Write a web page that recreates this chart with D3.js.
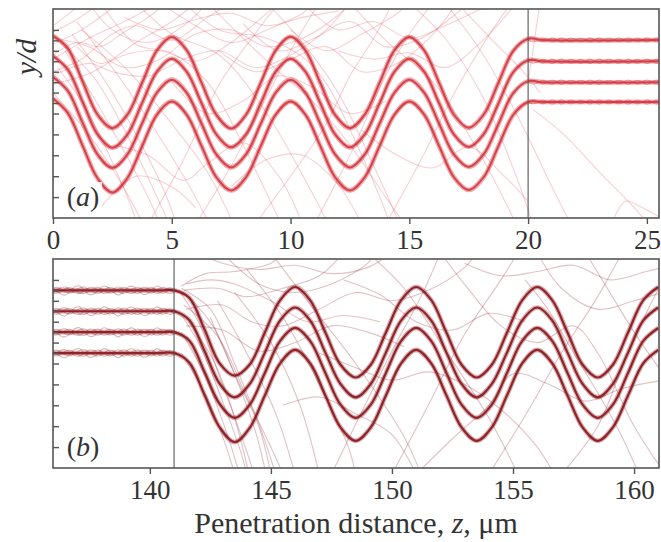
<!DOCTYPE html>
<html><head><meta charset="utf-8">
<script src="https://cdn.jsdelivr.net/npm/d3@7"></script>
<style>body{margin:0;background:#fff}svg{display:block}</style>
</head><body><svg id="c" width="661" height="542"></svg>
<script>
// ---------- DATA ----------
const topTicksX = [0, 5, 10, 15, 20, 25];
const botTicksX = [140, 145, 150, 155, 160];
const yTicks = [1, 2, 3, 4, 5, 5.5, 6, 6.5, 7, 7.5, 8, 8.5, 9];
const topEdgeZ = 20;      // channel straightens (panel a)
const botEdgeZ = 141;     // channel starts bending (panel b)

const zTopWave = [0,0.625,1.25,1.875,2.5,3.125,3.75,4.375,5,5.625,6.25,6.875,7.5,8.125,8.75,9.375,10,10.625,11.25,11.875,12.5,13.125,13.75,14.375,15,15.625,16.25,16.875,17.5,18.125,18.75,19.375,20];
const yTopWave = [
 [8.72,8.12,6.52,4.95,4.30,4.93,6.47,8.02,8.66,8.03,6.48,4.94,4.28,4.94,6.49,8.02,8.67,8.02,6.47,4.93,4.30,4.95,6.48,8.03,8.66,8.02,6.48,4.94,4.32,4.94,6.47,8.00,8.58],
 [7.75,7.10,5.55,4.00,3.36,3.98,5.50,7.00,7.62,7.00,5.50,4.00,3.38,4.00,5.50,7.00,7.62,7.00,5.50,4.00,3.38,4.00,5.50,7.00,7.62,7.00,5.50,4.00,3.40,4.00,5.48,6.98,7.55],
 [6.75,6.08,4.55,3.04,2.40,3.03,4.52,6.00,6.62,6.00,4.52,3.04,2.42,3.04,4.52,6.00,6.62,6.00,4.52,3.04,2.42,3.04,4.52,6.00,6.62,6.00,4.52,3.04,2.44,3.04,4.50,5.98,6.55],
 [5.72,5.02,3.45,1.90,1.22,1.90,3.43,4.95,5.58,4.95,3.45,1.95,1.32,1.95,3.45,4.95,5.58,4.95,3.45,1.95,1.32,1.95,3.45,4.95,5.58,4.95,3.45,1.95,1.34,1.95,3.44,4.94,5.55]
];
const topFlatLevels = [8.52, 7.50, 6.50, 5.55];
const braidTopZ = [20.0,20.2,20.4,20.6,20.8,21.0,21.2,21.4,21.6,21.8,22.0,22.2,22.4,22.6,22.8,23.0,23.2,23.4,23.6,23.8,24.0,24.2,24.4,24.6,24.8,25.0,25.2,25.4,25.6];
const braidTop = [0,0.09,0.03,-0.09,-0.02,0.10,0.01,-0.10,0,0.09,0.02,-0.09,-0.01,0.10,0,-0.10,0.01,0.09,0.01,-0.09,-0.02,0.10,0.01,-0.09,0,0.10,0.01,-0.10,0];

const zBotWave = [141,141.625,142.25,142.875,143.5,144.125,144.75,145.375,146,146.625,147.25,147.875,148.5,149.125,149.75,150.375,151,151.625,152.25,152.875,153.5,154.125,154.75,155.375,156,156.625,157.25,157.875,158.5,159.125,159.75,160.375,161];
const yBotWave = [
 [8.50,8.15,6.65,5.02,4.42,4.95,6.48,8.02,8.66,8.02,6.48,4.94,4.33,4.94,6.48,8.02,8.66,8.03,6.48,4.94,4.33,4.94,6.47,8.02,8.66,8.02,6.48,4.94,4.33,4.94,6.48,8.02,8.66],
 [7.50,7.08,5.62,4.05,3.38,4.02,5.52,7.05,7.68,7.05,5.52,4.02,3.38,4.02,5.52,7.05,7.68,7.05,5.52,4.02,3.38,4.02,5.52,7.05,7.68,7.05,5.52,4.02,3.38,4.02,5.52,7.05,7.68],
 [6.50,6.10,4.62,3.08,2.40,3.03,4.55,6.07,6.70,6.07,4.55,3.03,2.40,3.03,4.55,6.07,6.70,6.07,4.55,3.03,2.40,3.03,4.55,6.07,6.70,6.07,4.55,3.03,2.40,3.03,4.55,6.07,6.70],
 [5.50,5.05,3.52,1.96,1.24,1.92,3.47,5.00,5.65,5.00,3.47,1.94,1.30,1.94,3.47,5.00,5.65,5.00,3.47,1.94,1.30,1.94,3.47,5.00,5.65,5.00,3.47,1.94,1.30,1.94,3.47,5.00,5.65]
];
const botFlatLevels = [8.50, 7.50, 6.50, 5.50];
const braidBotZ = [135.9,136.1,136.3,136.5,136.7,136.9,137.1,137.3,137.5,137.7,137.9,138.1,138.3,138.5,138.7,138.9,139.1,139.3,139.5,139.7,139.9,140.1,140.3,140.5,140.7,140.9,141.1];
const braidBotA = [0.05,0.14,0.08,-0.08,-0.13,-0.02,0.12,0.15,0.03,-0.10,-0.14,0.0,0.13,0.10,-0.04,-0.15,-0.08,0.08,0.15,0.05,-0.09,-0.13,0.02,0.14,0.08,-0.05,0];
const braidBotB = [-0.10,-0.02,0.12,0.16,0.04,-0.12,-0.15,0.0,0.14,0.12,-0.03,-0.15,-0.09,0.07,0.16,0.06,-0.11,-0.14,0.01,0.13,0.12,-0.04,-0.15,-0.06,0.08,0.10,0];

const faintTop = [
 [[0,8.9],[1,9.5],[2,10.3]],
 [[0,8.3],[1.2,9.0],[2.8,10.3]],
 [[0,7.6],[1.5,8.6],[3,9.4],[4.5,10.3]],
 [[0,7.0],[1.2,7.6],[2.5,8.8],[3.5,9.2],[5,8.5],[6.5,9.6],[7.5,10.3]],
 [[0,6.4],[1.5,6.9],[3,7.8],[4.5,8.0],[6,7.5],[7.5,8.4],[9,9.8],[9.5,10.3]],
 [[0,8.6],[1.5,8.2],[3,7.2],[4.5,7.6],[6,8.8],[7.5,9.0],[9,8.2],[10.5,8.6],[12,9.7],[12.5,10.3]],
 [[0.2,7.2],[1.5,5.0],[3.4,0.2],[3.5,-0.3]],
 [[0.5,8.0],[2,5.2],[4,1.0],[4.5,-0.3]],
 [[0.8,8.8],[2.5,6.0],[4.6,1.5],[5.2,-0.3]],
 [[1,9.4],[3,6.4],[5.5,2.0],[6.6,-0.3]],
 [[0,6.0],[1.5,4.0],[2.8,1.8],[3.8,-0.3]],
 [[2,10.3],[3.5,8.3],[5,7.9],[6.5,6.5],[8,3.5],[9.6,-0.3]],
 [[3.5,10.3],[5,8.8],[7,7.8],[9,5.0],[11,1.0],[11.6,-0.3]],
 [[5.5,10.3],[7,9.0],[9,8.6],[11,7.2],[13,3.0],[14.2,-0.3]],
 [[4,-0.3],[5.5,2.8],[7,6.4],[8.5,8.8],[9.5,10.3]],
 [[6,-0.3],[7.5,2.5],[9,5.8],[10,8.0],[11.2,10.3]],
 [[8,9.3],[9.5,8.0],[11,8.6],[12.5,9.4],[14,8.2],[15.5,8.6],[17,9.8],[17.5,10.3]],
 [[7,8.0],[8.5,7.0],[10,7.6],[11.5,8.2],[13,7.0],[14.5,7.4],[16,8.8],[17,10.3]],
 [[9,10.3],[10.5,8.4],[12,6.0],[13.5,2.5],[14.6,-0.3]],
 [[11,-0.3],[12.5,3.0],[14,6.8],[15,8.8],[16,10.3]],
 [[12.5,10.3],[14,8.5],[16,6.5],[18,3.0],[19.5,-0.3]],
 [[15,10.3],[16.5,8.6],[18,6.0],[19.5,2.0],[20.2,-0.3]],
 [[14,-0.3],[15.5,2.8],[17,6.2],[18.5,9.0],[19.3,10.3]],
 [[16.5,10.3],[18,8.0],[19.5,5.0],[21,1.5],[21.8,-0.3]],
 [[20.2,5.2],[21.5,4.0],[23,2.2],[24.7,0.2],[25,-0.3]],
 [[20.5,10.3],[20.2,8.0],[20.0,6.5]],
 [[23.5,-0.3],[24.1,0.8],[24.8,0.5],[25.6,0.0]],
 [[2.5,3.5],[4,3.0],[5.5,1.8],[6.5,2.6],[8,3.6],[9.5,2.0],[10.5,-0.3]],
 [[7.5,1.5],[9,2.8],[10.5,3.0],[12,1.6],[13,-0.3]],
 [[0,9.2],[0.8,9.9],[1.2,10.3]],
 [[3,9.6],[4.5,9.0],[6,9.5],[7.5,9.8],[9,9.2],[10.5,9.6],[12,9.9]],
 [[1,8.2],[2,7.4],[3.5,8.4],[5,9.4],[6,10.3]],
 [[10,9.0],[11.5,8.0],[13,8.8],[14.5,9.8],[15,10.3]],
 [[0,7.8],[1,8.4],[2,8.2],[3,8.9],[4,9.6],[4.8,10.3]],
 [[0,6.8],[1.5,7.4],[2.5,7.0],[4,6.8],[5.5,7.6],[7,8.0],[8.5,7.2],[10,7.8],[11.5,9.0],[12.5,10.3]],
 [[1.5,10.3],[2.5,9.0],[4,8.4],[5.5,9.2],[6.5,10.3]],
 [[4.5,10.3],[6,9.2],[7.5,8.4],[9,9.0],[10.5,9.8],[11,10.3]],
 [[6.5,10.3],[8,8.6],[9.5,7.0],[11,5.5],[12.5,3.5],[14,1.0],[14.8,-0.3]],
 [[8.5,-0.3],[10,2.0],[11.5,4.5],[12.5,6.8],[13.5,8.6],[14.3,10.3]],
 [[10.5,10.3],[12,9.0],[13.5,9.4],[15,8.6],[16.5,9.2],[18,10.0]],
 [[12,8.0],[13.5,7.6],[15,7.9],[16.5,7.2],[18,8.4],[19,9.6],[19.5,10.3]],
 [[2,0.5],[3.5,2.0],[5,1.5],[6,0.5]],
 [[17,10.3],[18.5,8.5],[19.8,7.0],[20.5,6.0]],
 [[5,6.5],[6.5,5.0],[8,5.6],[9.5,6.8],[11,6.2],[12.5,5.0],[14,5.6]],
 [[13,4.2],[14.5,3.0],[16,2.4],[17.5,3.4],[19,2.0],[20,0.8]],
 [[0.3,8.4],[1.8,6.6],[3.2,3.8],[4.3,1.2],[4.9,-0.3]],
 [[1.2,9.0],[3.2,7.0],[5,4.5],[6.5,2.2],[7.6,-0.3]]
];
const faintBot = [
 [[141.2,8.5],[142,7.0],[143,4.0],[144,0.8],[144.3,-0.3]],
 [[141.2,7.5],[142,6.0],[143,3.2],[143.8,0.6],[144,-0.3]],
 [[141.3,6.5],[142.2,4.6],[143.2,1.6],[143.7,-0.3]],
 [[141.3,5.5],[142.3,3.5],[143.1,1.2],[143.5,-0.3]],
 [[141.3,8.6],[142.5,7.6],[143.5,5.0],[144.6,1.8],[145.2,-0.3]],
 [[141.4,7.8],[142.8,6.3],[144,3.4],[145.2,0.5],[145.5,-0.3]],
 [[141.5,8.8],[142.5,9.0],[143.5,8.8],[145,8.0],[146.5,7.0],[148,7.3],[149.5,7.0]],
 [[141.3,8.7],[142.3,9.3],[143.5,9.4],[145,9.8],[145.5,10.3]],
 [[141.4,8.5],[142.8,8.6],[144,8.2],[145.5,8.6],[147,9.2],[148,10.3]],
 [[141.5,7.6],[143,7.8],[144.2,7.0],[145.5,6.8],[147,7.6],[148.5,8.4],[150,8.0],[151.5,8.5],[153,9.6],[153.5,10.3]],
 [[141.5,6.8],[143,6.6],[144.5,5.6],[146,6.0],[147.5,6.8],[149,6.5],[150.5,5.8]],
 [[142,10.3],[143,9.8],[144.5,9.5],[146,9.7],[147.5,9.3],[149,9.6],[150,10.3]],
 [[142.5,7.2],[143.5,4.5],[144.5,2.0],[145,-0.3]],
 [[142.8,8.0],[144,5.5],[145.2,2.6],[146,-0.3]],
 [[143.5,8.4],[145,6.0],[146.2,3.0],[147,-0.3]],
 [[144,9.5],[145.5,7.2],[147,4.0],[148.2,1.0],[148.5,-0.3]],
 [[145,10.3],[146.5,8.0],[148.5,5.0],[150.5,1.5],[151.2,-0.3]],
 [[147.5,-0.3],[148.8,2.8],[150,5.6],[151.2,8.2],[152,10.3]],
 [[149,10.3],[150.5,8.6],[152,6.0],[154,2.4],[155.2,-0.3]],
 [[150,-0.3],[151.5,3.0],[153,6.4],[154.5,9.0],[155.2,10.3]],
 [[152,10.3],[153.2,8.5],[154.5,6.8],[156,6.0],[157.5,6.8],[158.5,5.5],[160,2.0],[161,0.2]],
 [[154,-0.3],[155.5,2.5],[157,5.5],[158.5,8.2],[159.5,10.3]],
 [[156,10.3],[157,8.6],[158.5,7.6],[160,8.0],[161.2,8.4]],
 [[157,-0.3],[158.5,2.0],[159.5,4.8],[160.5,7.4],[161.2,9.0]],
 [[153,9.8],[154.5,9.2],[156,9.4],[157.5,9.7],[159,9.0],[160.5,9.4],[161.2,9.6]],
 [[147,5.5],[148.5,4.8],[150,4.2],[151.5,4.6],[153,4.0],[154.5,2.8],[156,1.0],[156.7,-0.3]],
 [[145.5,3.0],[147,3.4],[148.5,2.6],[150,1.6],[151,-0.3]],
 [[151,-0.3],[152.5,1.4],[154,3.0],[155,4.5],[156.5,4.0],[158,3.2],[159.5,3.8],[161.2,4.2]],
 [[158,10.3],[159,8.4],[160,6.5],[161.2,4.5]],
 [[155.5,9.0],[156.5,7.5],[157.5,5.5],[158.5,3.6],[159.5,1.5],[160.2,-0.3]],
 [[148,9.0],[149.5,8.3],[151,7.0],[152.5,6.6],[154,7.4],[155.5,7.0]],
 [[143,10.3],[144.5,8.8],[146,8.4],[147.5,8.8],[149,9.8],[149.3,10.3]],
 [[141.6,8.2],[142.6,6.8],[143.6,4.2],[144.4,1.6],[144.8,-0.3]],
 [[141.6,7.0],[142.6,5.2],[143.4,2.8],[144.1,-0.3]]
];

// ---------- DRAW ----------
const svg = d3.select("#c");
const L = 53, R = 659;
const serif = "'Liberation Serif','Times New Roman',serif";

function panel(o) {
  const x = d3.scaleLinear().domain(o.xDomain).range([L, R]);
  const y = d3.scaleLinear().domain([0, 10]).range([o.bottom, o.top]);
  const g = svg.append("g");
  const cid = "clip" + o.id;
  svg.append("clipPath").attr("id", cid).append("rect")
    .attr("x", L).attr("y", o.top).attr("width", R - L).attr("height", o.bottom - o.top);
  const plot = g.append("g").attr("clip-path", `url(#${cid})`);
  const line = d3.line().x(d => x(d[0])).y(d => y(d[1])).curve(d3.curveCatmullRom.alpha(0.5));

  // faint dechanneled trajectories
  plot.selectAll("path.f").data(o.faint).join("path")
    .attr("d", line).attr("fill", "none")
    .attr("stroke", o.faintColor).attr("stroke-width", 1.1).attr("stroke-opacity", o.faintOpacity);

  // main channeled bundles
  o.curves.forEach((pts, k) => {
    plot.append("path").attr("d", line(pts)).attr("fill", "none")
      .attr("stroke", o.mainColor).attr("stroke-width", o.haloWidth).attr("stroke-opacity", o.haloOpacity);
    o.braids.forEach(b => {
      plot.append("path").attr("d", line(b.z.map((z, i) => [z, o.flatLevels[k] + b.v[i] * b.s])))
        .attr("fill", "none").attr("stroke", o.mainColor)
        .attr("stroke-width", 1.1).attr("stroke-opacity", o.braidOpacity);
    });
    plot.append("path").attr("d", line(pts)).attr("fill", "none")
      .attr("stroke", o.mainColor).attr("stroke-width", o.coreWidth).attr("stroke-opacity", o.coreOpacity);
  });

  // boundary line
  g.append("line").attr("x1", x(o.edgeZ)).attr("x2", x(o.edgeZ))
    .attr("y1", o.top).attr("y2", o.bottom).attr("stroke", "#555").attr("stroke-width", 1.1);

  // axes
  const xa = g.append("g").attr("transform", `translate(0,${o.bottom})`)
    .call(d3.axisBottom(x).tickValues(o.xTicks).tickSize(6).tickSizeOuter(0).tickPadding(6).tickFormat(d3.format("d")));
  xa.select(".domain").remove();
  xa.selectAll(".tick line").attr("stroke", "#555").attr("stroke-width", 1.4);
  xa.selectAll(".tick text").attr("font-family", serif).attr("font-size", 27).attr("fill", "#333");
  const ya = g.append("g").attr("transform", `translate(${L},0)`)
    .call(d3.axisRight(y).tickValues(yTicks).tickSize(6).tickSizeOuter(0).tickFormat(""));
  ya.select(".domain").remove();
  ya.selectAll(".tick line").attr("stroke", "#555").attr("stroke-width", 1.4);

  // frame
  g.append("rect").attr("x", L).attr("y", o.top).attr("width", R - L).attr("height", o.bottom - o.top)
    .attr("fill", "none").attr("stroke", "#555").attr("stroke-width", 1.6);

  // panel label
  g.append("rect").attr("x", 62).attr("y", o.bottom - 36).attr("width", 40).attr("height", 32).attr("fill", "#fff").attr("fill-opacity", 0.85);
  const t = g.append("text").attr("x", 83).attr("y", o.bottom - 12).attr("text-anchor", "middle")
    .attr("font-family", serif).attr("font-size", 28).attr("fill", "#333");
  t.append("tspan").text("(");
  t.append("tspan").attr("font-style", "italic").text(o.label);
  t.append("tspan").text(")");
}

const topCurves = yTopWave.map((ys, k) =>
  zTopWave.map((z, i) => [z, ys[i]]).concat([[20.6, topFlatLevels[k]], [25.8, topFlatLevels[k]]]));
const botCurves = yBotWave.map((ys, k) =>
  [[135.8, botFlatLevels[k]], [140.4, botFlatLevels[k]]].concat(zBotWave.map((z, i) => [z, ys[i]])));

panel({
  id: "a", top: 9, bottom: 218, xDomain: [0, 25.51], xTicks: topTicksX, edgeZ: topEdgeZ,
  faint: faintTop, faintColor: "#dc4a55", faintOpacity: 0.26,
  curves: topCurves, flatLevels: topFlatLevels, mainColor: "#d42f38",
  haloWidth: 4.6, haloOpacity: 0.42, coreWidth: 2.0, coreOpacity: 0.85,
  braids: [{z: braidTopZ, v: braidTop, s: 1}, {z: braidTopZ, v: braidTop, s: -1}], braidOpacity: 0.4,
  label: "a"
});
panel({
  id: "b", top: 259, bottom: 468, xDomain: [136, 161.03], xTicks: botTicksX, edgeZ: botEdgeZ,
  faint: faintBot, faintColor: "#9a3340", faintOpacity: 0.3,
  curves: botCurves, flatLevels: botFlatLevels, mainColor: "#8e1c22",
  haloWidth: 4.6, haloOpacity: 0.35, coreWidth: 2.2, coreOpacity: 0.95,
  braids: [{z: braidBotZ, v: braidBotA, s: 1}, {z: braidBotZ, v: braidBotA, s: -1},
           {z: braidBotZ, v: braidBotB, s: 1}, {z: braidBotZ, v: braidBotB, s: -1.4}], braidOpacity: 0.32,
  label: "b"
});

// y label
svg.append("text").attr("transform", "translate(36,57) rotate(-90)").attr("text-anchor", "middle")
  .attr("font-family", serif).attr("font-size", 30).attr("font-style", "italic").attr("fill", "#333").text("y/d");

// x title
const tt = svg.append("text").attr("x", 356).attr("y", 533).attr("text-anchor", "middle")
  .attr("font-family", serif).attr("font-size", 30).attr("fill", "#333");
tt.append("tspan").text("Penetration distance, ");
tt.append("tspan").attr("font-style", "italic").text("z");
tt.append("tspan").text(", μm");
</script></body></html>
